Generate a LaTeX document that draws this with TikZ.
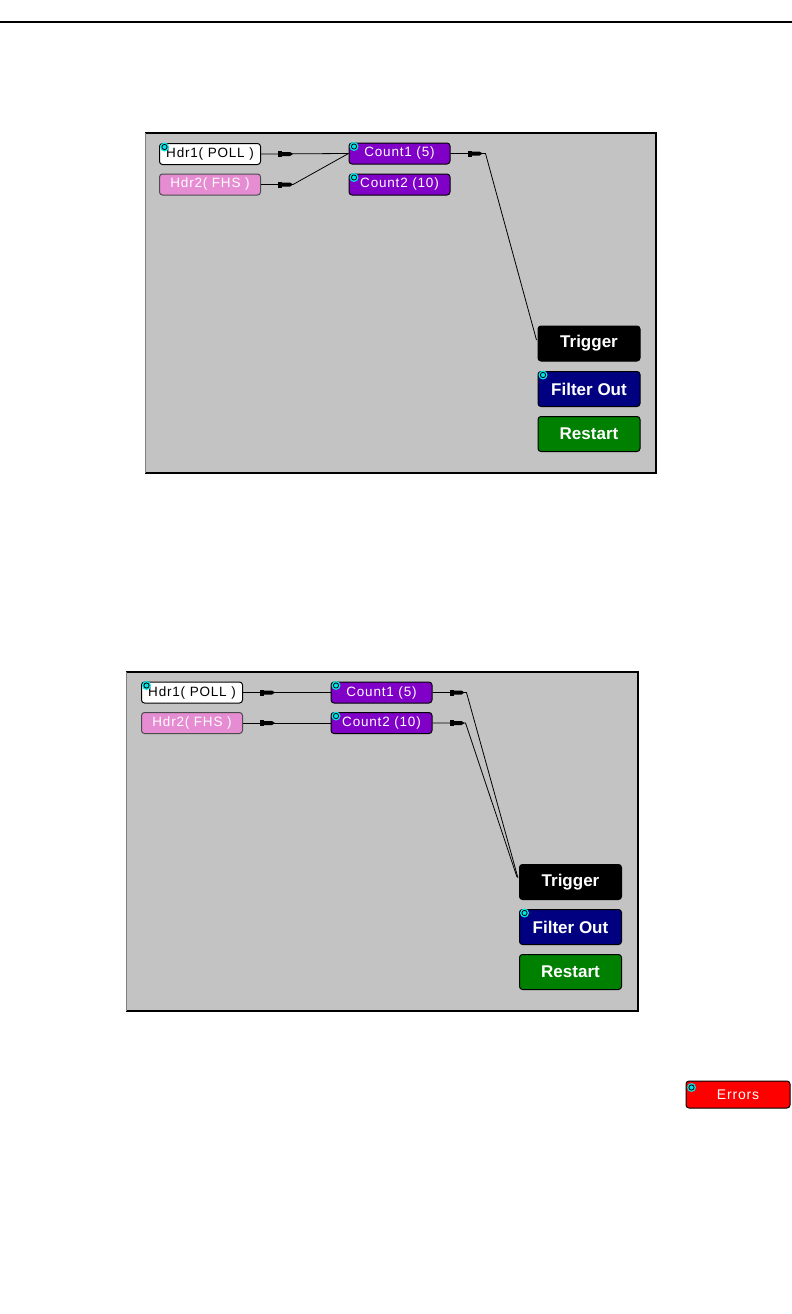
\documentclass[tikz,border=0pt]{standalone}
\usepackage{fontspec}
\setmainfont{Liberation Sans}
\newfontfamily\guifont[LetterSpace=6]{Liberation Sans}
\newfontfamily\guib{Liberation Sans}
\usetikzlibrary{calc}
\definecolor{panel}{RGB}{195,195,195}
\definecolor{purp}{RGB}{128,0,200}
\definecolor{pinkb}{RGB}{230,140,210}
\definecolor{navyb}{RGB}{0,0,128}
\definecolor{greenb}{RGB}{0,128,0}
\definecolor{redb}{RGB}{255,0,0}
\definecolor{cyanic}{RGB}{0,230,230}
\tikzset{
  blk/.style={draw=black, line width=1pt, rounded corners=3pt, inner sep=0pt, text=white,
    font=\guifont\fontsize{13.5}{13.5}\selectfont},
  smallbox/.style={blk, minimum width=101pt, minimum height=21pt},
  bigbox/.style={blk, minimum width=102pt, minimum height=35pt,
    font=\guib\bfseries\fontsize{17}{17}\selectfont},
  wire/.style={draw=black, line width=0.8pt},
  plug/.pic={\fill[black] (0,-3) rectangle (4,3);
             \fill[black] (4,-2) -- (12,-2) -- (15,0) -- (12,2) -- (4,2) -- cycle;},
  icon/.pic={\fill[cyanic] (0,0) circle (4.5pt);
             \draw[black, line width=0.8pt] (0,0) circle (2.6pt);},
}
\begin{document}
\begin{tikzpicture}[x=1pt,y=-1pt]
\useasboundingbox (0,0) rectangle (792,1314);
\fill[white] (0,0) rectangle (792,1314);
\draw[black, line width=2pt] (0,21.7) -- (792,21.7);

% ---------- panel 1 ----------
\fill[panel] (145,133) rectangle (656,473);
\draw[black, line width=1.5pt] (145,133) -- (656,133) -- (656,473) -- (145,473);
\draw[gray, line width=1pt] (145,133) -- (145,473);

\node[smallbox, fill=white, text=black] (pa1) at (210,154) {Hdr1( POLL )};
\node[smallbox, fill=pinkb, draw=black!70] (pa2) at (210,184.5) {Hdr2( FHS )};
\node[smallbox, fill=purp] (pc1) at (399.5,153.5) {Count1 (5)};
\node[smallbox, fill=purp] (pc2) at (399.5,184.5) {Count2 (10)};
\node[bigbox, fill=black] (pt) at (589,343.5) {Trigger};
\node[bigbox, fill=navyb] (pf) at (589,389) {Filter Out};
\node[bigbox, fill=greenb] (pr) at (589,434) {Restart};

\foreach \n in {pa1,pc1,pc2,pf} \pic at ($(\n.north west)+(5.5,4)$) {icon};

\draw[wire] (pa1.east) -- (pc1.west);
\draw[wire] (pa2.east) -- ++(32,0) -- (pc1.west);
\draw[wire] (pc1.east) -- ++(35,0) -- ($(pt.west)+(-1,-3.5)$);
\pic at ($(pa1.east)+(17,0)$) {plug};
\pic at ($(pa2.east)+(17,0)$) {plug};
\pic at ($(pc1.east)+(17,0)$) {plug};

% ---------- panel 2 ----------
\fill[panel] (126,672) rectangle (638,1011);
\draw[black, line width=1.5pt] (126,672) -- (638,672) -- (638,1011) -- (126,1011);
\draw[gray, line width=1pt] (126,672) -- (126,1011);

\node[smallbox, fill=white, text=black] (qa1) at (192,692.5) {Hdr1( POLL )};
\node[smallbox, fill=pinkb, draw=black!70] (qa2) at (192,723) {Hdr2( FHS )};
\node[smallbox, fill=purp] (qc1) at (381.5,692.5) {Count1 (5)};
\node[smallbox, fill=purp] (qc2) at (381.5,723) {Count2 (10)};
\node[bigbox, fill=black] (qt) at (570.5,882) {Trigger};
\node[bigbox, fill=navyb] (qf) at (570.5,927) {Filter Out};
\node[bigbox, fill=greenb] (qr) at (570.5,972) {Restart};

\foreach \n in {qa1,qc1,qc2,qf} \pic at ($(\n.north west)+(5.5,4)$) {icon};

\draw[wire] (qa1.east) -- (qc1.west);
\draw[wire] (qa2.east) -- (qc2.west);
\draw[wire] (qc1.east) -- ++(34,0) -- ($(qt.west)+(-1,-4)$);
\draw[wire] (qc2.east) -- ++(33,0) -- ($(qt.west)+(-2,-5)$);
\pic at ($(qa1.east)+(17,0)$) {plug};
\pic at ($(qa2.east)+(17,0)$) {plug};
\pic at ($(qc1.east)+(17,0)$) {plug};
\pic at ($(qc2.east)+(17,0)$) {plug};

% ---------- errors ----------
\node[blk, fill=redb, minimum width=104pt, minimum height=27pt,
      font=\guifont\fontsize{14}{14}\selectfont] (err) at (738,1094.5) {Errors};
\pic at ($(err.north west)+(6,7)$) {icon};
\end{tikzpicture}
\end{document}
